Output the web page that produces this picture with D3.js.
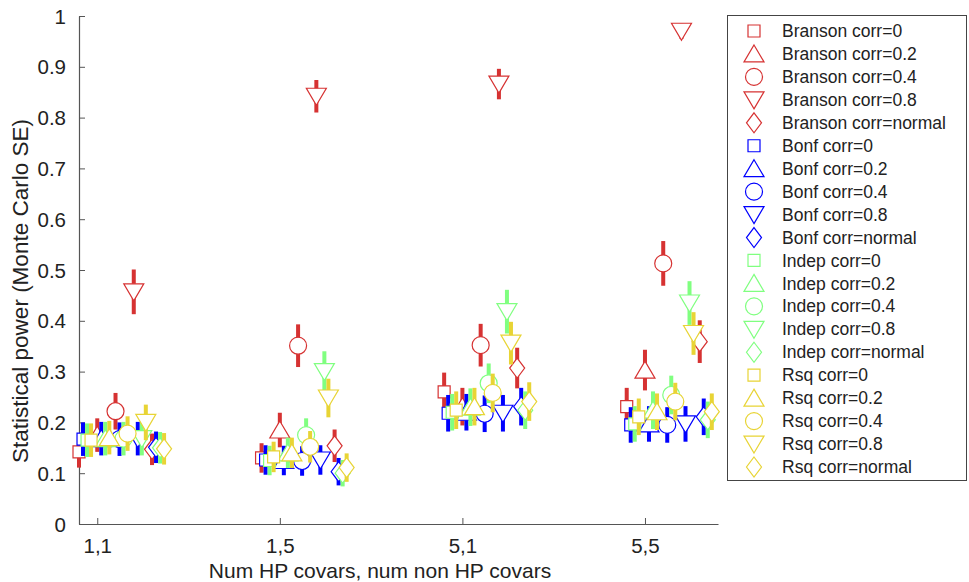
<!DOCTYPE html>
<html>
<head>
<meta charset="utf-8">
<script src="https://cdn.jsdelivr.net/npm/d3@7"></script>
<style>
  body { margin: 0; background: #fff; }
  svg { display: block; font-family: "Liberation Sans", Arial, sans-serif; }
</style>
</head>
<body>
<div id="chart"></div>
<script>
// Power of four multiple-testing methods, by covariate setting and correlation type

const settings = ["1,1", "1,5", "5,1", "5,5"];
const corrs = ["0", "0.2", "0.4", "0.8", "normal"];
const methods = ["Branson", "Bonf", "Indep", "Rsq"];
const methodColors = ["#d63232", "#0000ff", "#80ff80", "#e8d435"];

// power[setting][corr]
const bransonPower = [
  [0.142, 0.175, 0.222, 0.457, 0.147],
  [0.130, 0.185, 0.351, 0.842, 0.154],
  [0.260, 0.231, 0.352, 0.866, 0.307],
  [0.231, 0.303, 0.513, 0.970, 0.359]
];
const bonfPower = [
  [0.167, 0.168, 0.167, 0.168, 0.151],
  [0.126, 0.125, 0.124, 0.126, 0.103],
  [0.218, 0.220, 0.217, 0.218, 0.231],
  [0.195, 0.197, 0.195, 0.197, 0.211]
];
const indepPower = [
  [0.165, 0.168, 0.168, 0.168, 0.150],
  [0.125, 0.140, 0.175, 0.300, 0.100],
  [0.220, 0.230, 0.277, 0.418, 0.224],
  [0.197, 0.224, 0.254, 0.435, 0.205]
];
const rsqPower = [
  [0.165, 0.170, 0.178, 0.200, 0.148],
  [0.132, 0.140, 0.152, 0.248, 0.111],
  [0.224, 0.231, 0.258, 0.356, 0.241],
  [0.211, 0.221, 0.241, 0.375, 0.221]
];

// half-length of the Monte Carlo error bars
const bransonErr = [
  [0.031, 0.033, 0.036, 0.044, 0.031],
  [0.029, 0.034, 0.042, 0.032, 0.032],
  [0.038, 0.037, 0.042, 0.030, 0.040],
  [0.037, 0.040, 0.044, 0.015, 0.042]
];
const bonfErr = [
  [0.033, 0.033, 0.033, 0.033, 0.031],
  [0.029, 0.029, 0.029, 0.029, 0.027],
  [0.036, 0.036, 0.036, 0.036, 0.037],
  [0.035, 0.035, 0.035, 0.035, 0.036]
];
const indepErr = [
  [0.033, 0.033, 0.033, 0.033, 0.031],
  [0.029, 0.030, 0.033, 0.040, 0.026],
  [0.036, 0.037, 0.039, 0.043, 0.037],
  [0.035, 0.037, 0.038, 0.043, 0.036]
];
const rsqErr = [
  [0.033, 0.033, 0.034, 0.035, 0.031],
  [0.030, 0.030, 0.031, 0.038, 0.028],
  [0.037, 0.037, 0.038, 0.042, 0.038],
  [0.036, 0.036, 0.037, 0.042, 0.036]
];

const yTicks = [0, 0.1, 0.2, 0.3, 0.4, 0.5, 0.6, 0.7, 0.8, 0.9, 1];

const powerByMethod = [bransonPower, bonfPower, indepPower, rsqPower];
const errByMethod = [bransonErr, bonfErr, indepErr, rsqErr];

const width = 969, height = 582;
const plot = { left: 79, right: 718, top: 16, bottom: 524 };

const svg = d3.select("#chart").append("svg")
  .attr("width", width)
  .attr("height", height);

const x = d3.scaleLinear().domain([0.9, 4.4]).range([plot.left, plot.right]);
const y = d3.scaleLinear().domain([0, 1]).range([plot.bottom, plot.top]);

// offsets inside a setting group: corr shifts by 0.1, method by 0.022
const corrShift = [-0.1, 0, 0.1, 0.2, 0.3];
const methodShift = 0.022;

// marker shapes (centered at 0,0)
function circlePath(r) {
  return `M${r},0A${r},${r} 0 1,1 ${-r},0A${r},${r} 0 1,1 ${r},0Z`;
}
function markerPath(k) {
  if (k === 0) return "M-6,-6H6V6H-6Z";
  if (k === 1) return "M0,-9L10,8H-10Z";
  if (k === 2) return circlePath(8.5);
  if (k === 3) return "M0,9L10,-8H-10Z";
  return "M0,-10L7.5,0L0,10L-7.5,0Z";
}

// axes
const axisColor = "#555";
const gx = svg.append("g").attr("transform", `translate(0,${plot.bottom})`)
  .call(d3.axisBottom(x).tickValues([1, 2, 3, 4]).tickFormat((d, i) => settings[i])
    .tickSizeInner(-6).tickSizeOuter(0).tickPadding(12));
const gy = svg.append("g").attr("transform", `translate(${plot.left},0)`)
  .call(d3.axisLeft(y).tickValues(yTicks).tickFormat(d3.format("~g"))
    .tickSizeInner(-6).tickSizeOuter(0).tickPadding(13));
[gx, gy].forEach(g => {
  g.select(".domain").attr("stroke", axisColor).attr("stroke-width", 1.2);
  g.selectAll(".tick line").attr("stroke", axisColor);
  g.selectAll(".tick text").attr("fill", "#222").style("font-size", "20.5px")
    .style("font-family", "Liberation Sans, Arial, sans-serif");
});
gx.selectAll(".tick text").attr("dy", "0.85em");
gy.selectAll(".tick text").attr("dy", "0.35em");

svg.append("text")
  .attr("x", 380)
  .attr("y", 578)
  .attr("text-anchor", "middle")
  .attr("fill", "#222")
  .style("font-size", "21px")
  .text("Num HP covars, num non HP covars");

svg.append("text")
  .attr("transform", "translate(28,291) rotate(-90)")
  .attr("text-anchor", "middle")
  .attr("fill", "#222")
  .style("font-size", "22.5px")
  .text("Statistical power (Monte Carlo SE)");

// series in legend order: method, then corr
const series = [];
methods.forEach((m, mi) => {
  corrs.forEach((c, ci) => {
    series.push({
      label: `${m} corr=${c}`,
      mi, ci,
      color: methodColors[mi],
      points: settings.map((s, si) => ({
        x: si + 1 + corrShift[ci] + mi * methodShift,
        v: powerByMethod[mi][si][ci],
        e: errByMethod[mi][si][ci]
      }))
    });
  });
});

const marks = svg.append("g");
series.forEach(s => {
  const g = marks.append("g");
  g.selectAll("rect").data(s.points).enter().append("rect")
    .attr("x", d => x(d.x) - 2)
    .attr("width", 4)
    .attr("y", d => y(d.v + d.e))
    .attr("height", d => y(d.v - d.e) - y(d.v + d.e))
    .attr("fill", s.color);
  g.selectAll("path").data(s.points).enter().append("path")
    .attr("d", markerPath(s.ci))
    .attr("transform", d => `translate(${x(d.x)},${y(d.v)})`)
    .attr("fill", "#fff")
    .attr("stroke", s.color)
    .attr("stroke-width", 1.2);
});

// legend
const legend = svg.append("g");
legend.append("rect")
  .attr("x", 727.5).attr("y", 15.5)
  .attr("width", 239).attr("height", 465)
  .attr("fill", "#fff").attr("stroke", "#444").attr("stroke-width", 1);
const rowY = d3.scaleLinear().domain([0, series.length - 1]).range([31, 467]);
const item = legend.selectAll("g.item").data(series).enter().append("g")
  .attr("class", "item")
  .attr("transform", (d, i) => `translate(0,${rowY(i)})`);
item.append("path")
  .attr("d", d => markerPath(d.ci))
  .attr("transform", "translate(754,0)")
  .attr("fill", "#fff")
  .attr("stroke", d => d.color)
  .attr("stroke-width", 1.2);
item.append("text")
  .attr("x", 782)
  .attr("dy", "0.35em")
  .attr("fill", "#222")
  .style("font-size", "17.5px")
  .text(d => d.label);
</script>
</body>
</html>
